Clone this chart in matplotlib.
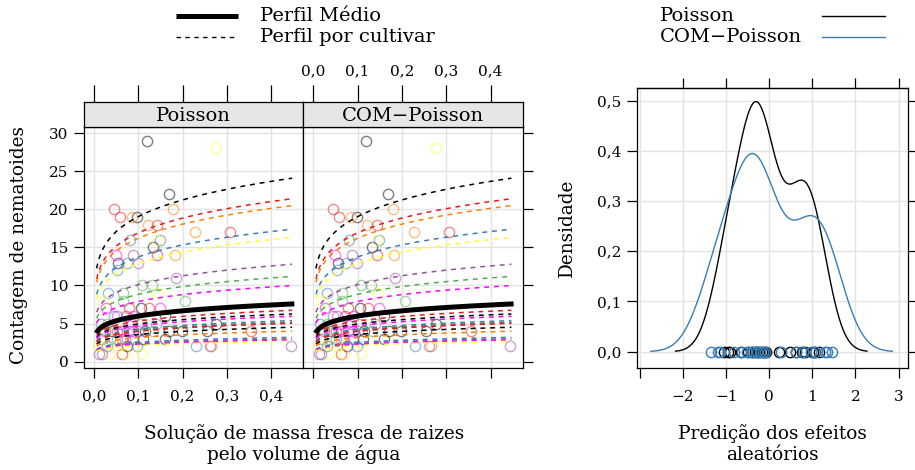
import numpy as np
import matplotlib
matplotlib.use("Agg")
import matplotlib.pyplot as plt
from matplotlib.lines import Line2D

plt.rcParams['font.family'] = ['DejaVu Serif']

# ---------------- data ----------------
palette = ["#000000", "#E41A1C", "#FF7F00", "#377EB8",
           "#FFFF33", "#984EA3", "#4DAF4A", "#FF00FF"]

panels = ["Poisson", "COM\u2212Poisson"]

# observed counts (x = solution of root fresh mass by water volume)
obs_x = [0.119, 0.276, 0.169, 0.044, 0.179, 0.059, 0.085, 0.098, 0.121, 0.143,
         0.228, 0.307, 0.081, 0.148, 0.143, 0.133, 0.143, 0.183, 0.049, 0.087,
         0.055, 0.074, 0.099, 0.053, 0.185, 0.108, 0.130, 0.032, 0.065, 0.145,
         0.021, 0.065, 0.206, 0.027, 0.078, 0.105, 0.124, 0.148, 0.044, 0.053,
         0.072, 0.089, 0.160, 0.276,
         0.012, 0.017, 0.036, 0.063, 0.070, 0.108,
         0.010, 0.030, 0.055, 0.075, 0.098, 0.230, 0.262, 0.265, 0.444,
         0.019, 0.035, 0.052, 0.063, 0.089, 0.111, 0.160, 0.070,
         0.025, 0.040, 0.052, 0.063, 0.078, 0.089, 0.100, 0.115, 0.170, 0.198,
         0.255, 0.355, 0.132,
         0.015, 0.030, 0.060, 0.085, 0.106, 0.140]
obs_y = [29, 28, 22, 20, 20, 19, 19, 19, 18, 18,
         17, 17, 16, 16, 16, 15, 14, 14, 14, 14,
         13, 13, 13, 12, 11, 10, 10, 9, 9, 9,
         8, 8, 8, 7, 7, 7, 7, 7, 6, 6,
         6, 6, 6, 5,
         1, 1, 1, 1, 1, 1,
         2, 2, 2, 2, 2, 2, 2, 2, 2,
         3, 3, 3, 3, 3, 3, 3, 3,
         4, 4, 4, 4, 4, 4, 4, 4, 4, 4,
         4, 4, 4,
         5, 5, 5, 5, 5, 5]
obs_col = [0, 4, 0, 1, 2, 1, 2, 0, 2, 1,
           2, 1, 3, 3, 4, 0, 1, 2, 7, 5,
           0, 3, 5, 3, 5, 6, 6, 3, 6, 4,
           4, 6, 6, 7, 1, 0, 1, 7, 3, 7,
           1, 7, 0, 0,
           5, 5, 4, 1, 4, 4,
           4, 3, 4, 0, 3, 3, 5, 2, 5,
           3, 6, 3, 1, 3, 0, 0, 7,
           1, 0, 1, 1, 7, 7, 5, 0, 0, 0,
           0, 1, 6,
           3, 6, 7, 5, 6, 5]

# fitted log-linear profile: log(mu) = b0 + b1*log(x) + u_cultivar
b0 = 2.151
b1 = 0.157
cultivar_u = [1.157, 1.038, 0.995, 0.831, 0.766, 0.524, 0.390, 0.277,
              -0.116, -0.190, -0.240, -0.341, -0.377, -0.396, -0.408,
              -0.517, -0.639, -0.862, -0.927, -0.978, -1.040]
cultivar_col = [0, 1, 2, 3, 4, 5, 6, 7,
                1, 0, 7, 3, 6, 5, 1,
                0, 2, 3, 5, 7, 4]
x_profile_range = (0.006, 0.447)
x_mean_range = (0.005, 0.452)

# predicted random effects
re_poisson = [-1.06, -0.95, -0.90, -0.65, -0.50, -0.41, -0.34, -0.29, -0.23,
              -0.17, -0.12, -0.08, 0.22, 0.49, 0.61, 0.77, 0.84, 1.02, 1.05, 1.15]
re_compoisson = [-1.35, -1.20, -1.14, -0.83, -0.64, -0.52, -0.43, -0.37, -0.29,
                 -0.22, -0.15, -0.10, 0.28, 0.62, 0.78, 0.98, 1.06, 1.29, 1.33, 1.46]
bw_poisson = 0.372
bw_compoisson = 0.465
dens_colors = ["#000000", "#377EB8"]
dens_labels = ["Poisson", "COM\u2212Poisson"]

xticks_left = [0.0, 0.1, 0.2, 0.3, 0.4]
yticks_left = [0, 5, 10, 15, 20, 25, 30]
xticks_dens = [-3, -2, -1, 0, 1, 2, 3]
yticks_dens = [0.0, 0.1, 0.2, 0.3, 0.4, 0.5]


def comma(v, nd=1):
    return f"{v:.{nd}f}".replace(".", ",")


def kde(values, bw, n=512):
    v = np.asarray(values)
    grid = np.linspace(v.min() - 3 * bw, v.max() + 3 * bw, n)
    z = (grid[:, None] - v[None, :]) / bw
    d = np.exp(-0.5 * z ** 2).sum(axis=1) / (len(v) * bw * np.sqrt(2 * np.pi))
    return grid, d


# ---------------- figure ----------------
W, H = 915, 470
fig = plt.figure(figsize=(W / 100, H / 100), dpi=100)


def rect(x0, y0, x1, y1):
    return [x0 / W, 1 - y1 / H, (x1 - x0) / W, (y1 - y0) / H]


grid_col = "#E3E3E3"
tick_len = 7.5
lab_size = 11
big = 13.3

xl = (-0.0226, 0.4723)
yl = (-0.83, 30.8)

pan_x = [(84, 303.3), (303.3, 522.6)]
axes = []
for i, (a, b) in enumerate(pan_x):
    ax = fig.add_axes(rect(a, 127, b, 368))
    ax.set_xlim(*xl)
    ax.set_ylim(*yl)
    ax.set_xticks(xticks_left)
    ax.set_yticks(yticks_left)
    ax.grid(True, color=grid_col, lw=1.0)
    ax.set_axisbelow(True)
    for sp in ax.spines.values():
        sp.set_linewidth(0.9)
    # observed points
    for c in range(len(palette)):
        xs = [x for x, cc in zip(obs_x, obs_col) if cc == c]
        ys = [y for y, cc in zip(obs_y, obs_col) if cc == c]
        ax.plot(xs, ys, linestyle="none", marker="o", ms=7.4, mfc="none",
                mec=palette[c], mew=1.0, alpha=0.5, zorder=2)
    # cultivar profiles
    xx = np.linspace(*x_profile_range, 200)
    for u, c in zip(cultivar_u, cultivar_col):
        ax.plot(xx, np.exp(b0 + b1 * np.log(xx) + u), color=palette[c],
                lw=1.1, dashes=(3.2, 3.2), zorder=3)
    xm = np.linspace(*x_mean_range, 200)
    ax.plot(xm, np.exp(b0 + b1 * np.log(xm)), color="black", lw=3.6,
            solid_capstyle="butt", zorder=4)
    if i == 0:
        ax.tick_params(axis="both", direction="out", length=tick_len, width=0.9,
                       labelsize=lab_size, top=False, right=False)
        ax.tick_params(axis="x", pad=8)
        ax.set_xticklabels([comma(v) for v in xticks_left])
        ax.set_yticklabels([str(v) for v in yticks_left])
    else:
        ax.tick_params(axis="both", direction="out", length=tick_len, width=0.9,
                       labelsize=lab_size, left=False, labelleft=False,
                       right=True, labelbottom=False)
    axes.append(ax)

    # strip
    st = fig.add_axes(rect(a, 102, b, 127))
    st.set_facecolor("#E6E6E6")
    st.set_xlim(*xl)
    st.set_ylim(0, 1)
    st.set_yticks([])
    st.set_xticks(xticks_left)
    for sp in st.spines.values():
        sp.set_linewidth(0.9)
    st.tick_params(axis="x", direction="out", length=12, width=0.9,
                   bottom=False, labelbottom=False, top=True,
                   labeltop=(i == 1), labelsize=lab_size, pad=5)
    if i == 1:
        st.set_xticklabels([comma(v) for v in xticks_left])
    st.text(0.5, 0.45, panels[i], transform=st.transAxes, ha="center",
            va="center", fontsize=14)

fig.text(19 / W, 1 - 245 / H, "Contagem de nematoides", rotation=90,
         ha="center", va="center", fontsize=big)
fig.text(304 / W, 1 - 444 / H,
         "Solução de massa fresca de raizes\npelo volume de água",
         ha="center", va="center", fontsize=big, linespacing=1.15)

# legend (left)
fig.add_artist(Line2D([176 / W, 238 / W], [1 - 16 / H, 1 - 16 / H], color="black",
                      lw=3.6, solid_capstyle="butt"))
fig.add_artist(Line2D([176 / W, 238 / W], [1 - 37 / H, 1 - 37 / H], color="black",
                      lw=1.0, dashes=(3.2, 3.2)))
fig.text(260 / W, 1 - 16 / H, "Perfil Médio", ha="left", va="center", fontsize=14)
fig.text(260 / W, 1 - 37 / H, "Perfil por cultivar", ha="left", va="center",
         fontsize=14)

# ---------------- density panel ----------------
ax3 = fig.add_axes(rect(637, 88, 908, 368))
ax3.set_xlim(-3.07, 3.22)
ax3.set_ylim(-0.0325, 0.525)
ax3.set_xticks(xticks_dens)
ax3.set_xticklabels(["" if v == -3 else str(v).replace("-", "\u2212")
                     for v in xticks_dens])
ax3.set_yticks(yticks_dens)
ax3.set_yticklabels([comma(v) for v in yticks_dens])
ax3.grid(True, color=grid_col, lw=1.0)
ax3.set_axisbelow(True)
for sp in ax3.spines.values():
    sp.set_linewidth(0.9)
ax3.tick_params(axis="both", direction="out", length=tick_len, width=0.9,
                labelsize=lab_size, right=True)
ax3.tick_params(axis="x", pad=8)

sec = ax3.secondary_xaxis("top")
sec.set_xticks(xticks_dens[1:])
sec.set_xticklabels([])
sec.tick_params(direction="out", length=tick_len, width=0.9)
sec.spines["top"].set_linewidth(0.9)

for vals, bw, col in [(re_poisson, bw_poisson, dens_colors[0]),
                      (re_compoisson, bw_compoisson, dens_colors[1])]:
    g, d = kde(vals, bw)
    ax3.plot(g, d, color=col, lw=1.0, zorder=3)
for vals, col in [(re_poisson, dens_colors[0]), (re_compoisson, dens_colors[1])]:
    ax3.plot(vals, np.zeros(len(vals)), linestyle="none", marker="o", ms=7.4,
             mfc="none", mec=col, mew=1.0, zorder=4)

fig.text(567 / W, 1 - 228 / H, "Densidade", rotation=90, ha="center",
         va="center", fontsize=big)
fig.text(772 / W, 1 - 444 / H, "Predição dos efeitos\naleatórios",
         ha="center", va="center", fontsize=big, linespacing=1.15)

# legend (right)
fig.text(660 / W, 1 - 16 / H, dens_labels[0], ha="left", va="center", fontsize=14)
fig.text(660 / W, 1 - 37 / H, dens_labels[1], ha="left", va="center", fontsize=14)
fig.add_artist(Line2D([822 / W, 885 / W], [1 - 16 / H, 1 - 16 / H],
                      color=dens_colors[0], lw=1.0))
fig.add_artist(Line2D([822 / W, 885 / W], [1 - 37 / H, 1 - 37 / H],
                      color=dens_colors[1], lw=1.0))

fig.savefig("out.png", dpi=100)
